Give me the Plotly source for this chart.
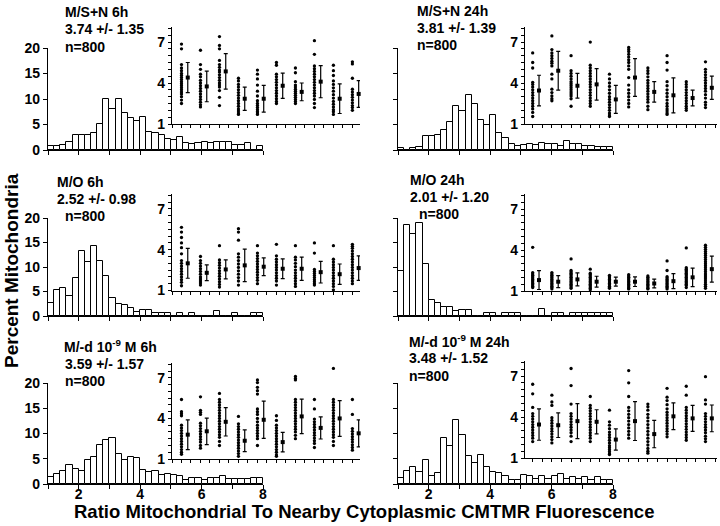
import plotly.graph_objects as go

W, H = 720, 526
FONT = "Liberation Sans, Arial, sans-serif"

# ---------------- data ----------------
panel_titles = ["M/S+N 6h", "M/S+N 24h", "M/O 6h", "M/O 24h",
                "M/-d 10<sup>-9</sup> M 6h", "M/-d 10<sup>-9</sup> M 24h"]
panel_stats = ["3.74 +/- 1.35", "3.81 +/- 1.39", "2.52 +/- 0.98",
               "2.01 +/- 1.20", "3.59 +/- 1.57", "3.48 +/- 1.52"]
panel_n = ["n=800"] * 6

bin_start = 1.0
bin_width = 0.2

# histogram percentages, 35 bins of 0.2 from 1 to 8
hist_a = [0.8, 0.8, 1.0, 1.6, 3.0, 3.0, 3.0, 3.4, 5.1, 10.0, 8.0, 10.0, 7.2, 6.2, 5.6, 6.4, 3.5, 3.3,
          3.0, 2.1, 1.9, 2.5, 1.3, 1.1, 1.3, 1.5, 1.3, 1.5, 1.6, 1.6, 1.0, 1.0, 1.3, 0.0, 0.8]
hist_b = [0.4, 0.0, 0.4, 0.6, 2.7, 2.7, 3.0, 3.9, 5.4, 8.6, 7.7, 10.8, 9.1, 5.9, 4.9, 6.8, 3.4, 2.4,
          1.2, 0.7, 0.9, 1.1, 0.9, 1.3, 1.2, 1.2, 0.7, 1.8, 1.2, 1.1, 0.7, 0.7, 0.6, 0.5, 0.5]
hist_c = [2.7, 5.3, 5.8, 4.0, 7.7, 13.3, 11.1, 14.2, 11.3, 8.1, 3.6, 2.5, 2.3, 1.6, 0.8, 1.2, 1.2, 0.7,
          0.7, 0.7, 0.0, 0.7, 0.0, 0.7, 0.0, 0.0, 0.0, 1.1, 0.0, 0.0, 0.6, 0.0, 0.0, 0.6, 0.6]
hist_d = [9.2, 18.6, 16.8, 19.0, 10.7, 3.2, 2.7, 1.8, 1.8, 1.0, 1.3, 1.3, 0.0, 0.0, 0.6, 0.6, 0.0, 0.6,
          0.6, 0.6, 0.0, 0.0, 0.0, 1.5, 0.0, 0.6, 0.6, 0.0, 0.6, 0.6, 0.6, 0.6, 0.6, 0.6, 0.6]
hist_e = [1.4, 2.0, 2.5, 3.7, 3.0, 2.5, 4.8, 5.3, 7.8, 8.8, 9.2, 6.0, 4.7, 5.3, 5.1, 2.8, 2.3, 2.5,
          1.7, 2.0, 1.8, 1.5, 0.7, 1.2, 1.2, 0.7, 1.2, 1.2, 1.6, 0.9, 1.0, 1.0, 0.9, 1.2, 1.2]
hist_f = [1.1, 2.6, 3.4, 2.4, 4.8, 1.6, 2.2, 9.2, 7.6, 12.7, 9.7, 5.6, 4.1, 5.8, 3.4, 2.4, 2.1, 1.6,
          0.7, 0.7, 1.8, 1.6, 0.9, 1.6, 0.9, 1.6, 2.0, 1.0, 1.3, 0.9, 1.3, 0.7, 1.4, 0.7, 0.8]

# per-cell ratios for 10 cells in each condition (inset dot plots)
dots_a = [
    [6.85, 6.5, 5.35, 5.1, 4.9, 4.7, 4.55, 4.4, 4.25, 4.1, 3.95, 3.8, 3.65, 3.5, 3.35, 3.2, 3.0, 2.75, 2.5],
    [6.4, 5.35, 5.0, 4.65, 4.45, 4.2, 4.0, 3.8, 3.6, 3.4, 3.2, 3.0, 2.8, 2.6, 2.4, 2.25],
    [7.4, 6.75, 6.5, 5.65, 5.35, 5.15, 4.95, 4.8, 4.6, 4.4, 4.2, 4.0, 3.85, 3.7, 3.45, 2.95, 2.35],
    [4.35, 4.15, 3.9, 3.7, 3.5, 3.3, 3.1, 2.9, 2.7, 2.5, 2.3, 2.1, 1.95, 1.8, 1.7],
    [4.95, 4.65, 4.3, 3.85, 3.4, 3.05, 2.7, 2.5, 2.35, 2.2, 2.05, 1.9, 1.8, 1.7],
    [5.5, 5.3, 4.65, 4.45, 4.25, 4.05, 3.85, 3.65, 3.45, 3.25, 3.05, 2.85, 2.65, 2.5],
    [5.1, 4.75, 4.1, 3.85, 3.7, 3.55, 3.4, 3.25, 3.1, 2.95, 2.8, 2.65, 2.5],
    [7.1, 6.1, 5.25, 5.05, 4.85, 4.65, 4.45, 4.25, 4.05, 3.85, 3.65, 3.45, 3.25, 3.05, 2.8, 2.5, 2.2],
    [5.3, 4.9, 4.55, 4.15, 3.9, 3.65, 3.4, 3.15, 2.9, 2.65, 2.45, 2.25, 2.05, 1.9, 1.7],
    [5.55, 5.4, 4.35, 3.55, 3.35, 3.15, 2.95, 2.75, 2.55, 2.35, 2.2, 2.0],
]
dots_b = [
    [6.2, 5.5, 5.1, 4.05, 3.9, 3.7, 3.5, 3.3, 3.1, 2.9, 2.7, 2.5, 2.3, 2.1, 1.85, 1.55],
    [7.45, 6.45, 6.2, 6.0, 5.8, 5.6, 5.45, 5.25, 4.65, 4.3, 3.55, 3.3, 3.05, 2.85, 2.7],
    [6.0, 4.9, 4.7, 4.5, 4.3, 4.1, 3.95, 3.8, 3.65, 3.5, 3.35, 3.2, 3.05, 2.85, 2.3],
    [7.0, 5.3, 5.1, 4.9, 4.7, 4.5, 4.3, 4.1, 3.9, 3.7, 3.5, 3.3, 3.1, 2.9, 2.7, 2.5, 2.3],
    [4.65, 4.3, 4.0, 3.75, 3.5, 3.25, 3.0, 2.8, 2.6, 2.4, 2.2, 2.0, 1.8, 1.65, 1.55],
    [6.6, 6.45, 6.3, 6.1, 5.9, 5.7, 5.5, 5.25, 5.0, 4.4, 3.85, 3.5, 3.25, 3.0, 2.75, 2.5, 2.25],
    [5.1, 4.9, 4.7, 4.45, 4.2, 4.0, 3.8, 3.6, 3.4, 3.2, 3.0, 2.8, 2.6, 2.3, 2.05],
    [6.0, 5.5, 4.95, 4.1, 3.8, 3.5, 3.25, 3.0, 2.75, 2.5, 2.3, 2.1, 1.95, 1.8, 1.7],
    [4.1, 3.9, 3.7, 3.5, 3.3, 3.1, 2.9, 2.7, 2.5, 2.3, 2.15, 2.0],
    [5.55, 5.0, 4.8, 4.6, 4.4, 4.2, 4.0, 3.8, 3.6, 3.4, 3.15, 2.9, 2.6, 2.4, 2.2],
]
dots_c = [
    [5.65, 5.3, 4.9, 4.5, 4.15, 3.7, 3.2, 3.0, 2.8, 2.6, 2.4, 2.2, 2.0, 1.8, 1.6, 1.35],
    [3.5, 3.2, 3.0, 2.8, 2.6, 2.4, 2.2, 2.0, 1.85, 1.7, 1.55, 1.4],
    [4.3, 3.25, 3.05, 2.85, 2.65, 2.45, 2.25, 2.05, 1.85, 1.65, 1.45, 1.25],
    [5.55, 5.3, 4.7, 3.7, 3.45, 3.2, 2.95, 2.7, 2.45, 2.2, 1.95, 1.7, 1.4],
    [4.3, 3.75, 3.55, 3.35, 3.15, 2.95, 2.75, 2.55, 2.35, 2.15, 1.95, 1.75, 1.5],
    [4.4, 3.55, 3.3, 3.1, 2.9, 2.7, 2.5, 2.3, 2.1, 1.9, 1.7, 1.4],
    [4.3, 3.45, 3.25, 3.0, 2.75, 2.5, 2.3, 2.1, 1.9, 1.7, 1.5, 1.3],
    [4.5, 3.75, 2.55, 2.4, 2.25, 2.1, 1.95, 1.8, 1.65, 1.5, 1.4],
    [4.3, 3.3, 3.1, 2.9, 2.7, 2.5, 2.3, 2.1, 1.9, 1.7, 1.5, 1.3, 1.05],
    [4.4, 4.25, 4.1, 3.9, 3.7, 3.5, 3.3, 3.1, 2.9, 2.7, 2.5, 2.3, 2.1, 1.9, 1.7, 1.5],
]
dots_d = [
    [4.2, 2.35, 2.25, 2.15, 2.05, 1.95, 1.85, 1.75, 1.65, 1.55, 1.45, 1.35, 1.25],
    [2.35, 2.25, 2.15, 2.05, 1.95, 1.85, 1.75, 1.65, 1.55, 1.45, 1.35, 1.25, 1.15],
    [3.35, 2.5, 2.4, 2.3, 2.2, 2.1, 2.0, 1.9, 1.8, 1.7, 1.6, 1.5, 1.4, 1.3, 1.2],
    [2.6, 2.3, 2.2, 2.1, 2.0, 1.9, 1.8, 1.7, 1.6, 1.5, 1.4, 1.3, 1.2, 1.1],
    [2.15, 2.05, 1.95, 1.85, 1.75, 1.65, 1.55, 1.45, 1.35, 1.25, 1.2],
    [2.2, 2.1, 2.0, 1.9, 1.8, 1.7, 1.6, 1.5, 1.4, 1.3, 1.2, 1.15],
    [2.1, 2.0, 1.9, 1.8, 1.7, 1.6, 1.5, 1.4, 1.3, 1.2, 1.15],
    [3.2, 2.5, 2.05, 1.95, 1.85, 1.75, 1.65, 1.55, 1.45, 1.35, 1.25, 1.15],
    [4.15, 2.7, 2.6, 2.5, 2.4, 2.3, 2.2, 2.1, 2.0, 1.9, 1.8, 1.7, 1.6, 1.5, 1.4, 1.25],
    [4.35, 4.2, 4.05, 3.9, 3.75, 3.6, 3.45, 3.3, 3.15, 3.0, 2.85, 2.7, 2.55, 2.4, 2.25, 2.1,
     1.95, 1.8, 1.65, 1.5, 1.35, 1.2],
]
dots_e = [
    [5.4, 4.5, 4.35, 4.2, 3.5, 3.3, 3.1, 2.9, 2.7, 2.5, 2.3, 2.1, 1.9, 1.7, 1.5, 1.35],
    [5.6, 4.6, 4.45, 4.3, 3.65, 3.45, 3.25, 3.05, 2.85, 2.65, 2.45, 2.25, 2.0, 1.8],
    [5.85, 5.4, 5.2, 5.0, 4.8, 4.6, 4.4, 4.2, 4.0, 3.8, 3.6, 3.4, 3.2, 3.0, 2.8, 2.6, 2.3, 2.0],
    [4.15, 3.6, 3.4, 3.2, 3.0, 2.8, 2.6, 2.4, 2.2, 2.0, 1.8, 1.6, 1.4, 1.2],
    [6.85, 6.65, 6.3, 6.05, 5.8, 4.7, 4.5, 4.3, 4.0, 3.75, 3.5, 3.3, 3.1, 2.9, 2.7, 2.5, 2.0],
    [4.2, 3.85, 3.5, 3.3, 3.1, 2.9, 2.7, 2.5, 2.3, 2.1, 1.9, 1.7, 1.5, 1.3, 1.2],
    [7.1, 6.95, 6.85, 5.4, 5.2, 5.0, 4.8, 4.6, 4.4, 4.2, 4.0, 3.8, 3.6, 3.4, 3.2, 3.0, 2.75, 2.5],
    [5.4, 4.7, 3.95, 3.75, 3.55, 3.35, 3.15, 2.95, 2.75, 2.55, 2.35, 2.15, 1.85],
    [7.7, 5.4, 5.2, 5.0, 4.8, 4.6, 4.4, 4.2, 4.0, 3.8, 3.6, 3.4, 3.2, 3.0, 2.8, 2.6, 2.3, 2.0],
    [5.4, 4.3, 3.25, 3.05, 2.85, 2.65, 2.45, 2.25, 2.05, 1.85, 1.65],
]
dots_f = [
    [6.4, 5.7, 4.7, 4.25, 4.05, 3.85, 3.65, 3.45, 3.25, 3.05, 2.85, 2.65, 2.45, 2.2],
    [5.6, 5.1, 4.85, 3.95, 3.75, 3.55, 3.35, 3.15, 2.95, 2.75, 2.55, 2.35, 2.1],
    [7.55, 6.3, 4.95, 4.25, 4.05, 3.85, 3.65, 3.45, 3.25, 3.05, 2.85, 2.6, 2.2],
    [5.5, 4.85, 4.65, 4.45, 4.25, 4.05, 3.85, 3.65, 3.45, 3.25, 3.05, 2.85, 2.65, 2.45, 2.2],
    [4.5, 3.65, 3.4, 3.15, 2.9, 2.7, 2.5, 2.3, 2.1, 1.9, 1.75, 1.6, 1.45, 1.3, 1.25],
    [7.4, 6.5, 5.5, 4.7, 4.45, 4.2, 3.95, 3.7, 3.45, 3.2, 2.95, 2.7, 2.45],
    [4.95, 4.75, 4.5, 4.2, 3.95, 3.7, 3.45, 3.2, 2.95, 2.7, 2.45, 2.2, 1.95, 1.7, 1.5, 1.35],
    [6.1, 5.45, 5.2, 4.9, 4.6, 4.35, 4.15, 3.95, 3.75, 3.55, 3.35, 3.15, 2.95, 2.75, 2.55],
    [6.25, 5.6, 4.7, 4.5, 4.3, 4.1, 3.9, 3.7, 3.5, 3.3, 3.1, 2.9, 2.7, 2.5, 2.3],
    [6.95, 5.25, 4.95, 4.25, 4.05, 3.85, 3.65, 3.45, 3.25, 3.05, 2.85, 2.6, 2.4, 2.2],
]

# per-cell mean and SD shown as error bars
mean_a = [4.4, 3.75, 4.85, 2.85, 2.85, 3.8, 3.35, 4.1, 2.85, 3.2]
sd_a = [1.1, 1.12, 1.3, 0.85, 0.98, 0.92, 0.65, 1.18, 1.08, 0.98]
mean_b = [3.45, 4.9, 3.8, 3.9, 2.8, 4.4, 3.35, 3.1, 2.9, 3.65]
sd_b = [1.12, 1.42, 0.9, 1.15, 1.02, 1.38, 0.75, 1.28, 0.58, 0.85]
mean_c = [3.0, 2.3, 2.55, 2.85, 2.75, 2.6, 2.6, 2.35, 2.2, 2.65]
sd_c = [1.1, 0.58, 0.7, 1.2, 0.65, 0.72, 0.85, 0.8, 0.75, 0.9]
mean_d = [1.8, 1.68, 1.85, 1.68, 1.68, 1.68, 1.55, 1.72, 2.0, 2.6]
sd_d = [0.69, 0.44, 0.48, 0.4, 0.33, 0.35, 0.32, 0.55, 0.68, 0.95]
mean_e = [2.8, 3.05, 3.75, 2.35, 3.9, 2.25, 4.15, 3.3, 4.0, 2.9]
sd_e = [1.1, 0.98, 1.05, 0.8, 1.38, 0.72, 1.28, 0.82, 1.32, 1.0]
mean_f = [3.45, 3.4, 3.7, 3.65, 2.35, 3.7, 2.75, 4.05, 3.9, 3.9]
sd_f = [1.15, 0.9, 1.28, 0.88, 0.78, 1.42, 1.0, 0.98, 0.95, 0.98]

cells = list(range(1, 11))

hists = [hist_a, hist_b, hist_c, hist_d, hist_e, hist_f]
dots = [dots_a, dots_b, dots_c, dots_d, dots_e, dots_f]
means = [mean_a, mean_b, mean_c, mean_d, mean_e, mean_f]
sds = [sd_a, sd_b, sd_c, sd_d, sd_e, sd_f]

hist_ticks_y = [0, 5, 10, 15, 20]
hist_ticks_x = [1, 2, 3, 4, 5, 6, 7, 8]
hist_ticklabels_x = ["", "2", "", "4", "", "6", "", "8"]
inset_ticks_y = [1, 1.5, 2, 2.5, 3, 3.5, 4, 4.5, 5, 5.5, 6, 6.5, 7, 7.5, 8]
inset_ticklabels_y = ["1", "", "", "", "", "", "4", "", "", "", "", "", "7", "", ""]


# ---------------- layout geometry (pixels) ----------------
def fx(px):
    return px / W


def fy(py):
    return 1 - py / H


hist_x_px = [(48, 263), (398, 613)]
hist_y_px = [(48, 150), (218, 316), (383, 484)]
inset_x_px = [(172, 360), (525, 717)]
inset_x_rng = [[0.5, 10.4], [0.6, 10.6]]
inset_y_px = [[(27, 124), (27, 124)], [(194, 290.5), (194, 291)], [(363, 459), (361, 458)]]
text_pos = [
    [(63, 12), (63, 29), (63, 47)],
    [(415, 11), (415, 28), (415, 45)],
    [(55, 182), (55, 199), (63, 216)],
    [(408, 180), (408, 197), (417, 214)],
    [(62, 346), (63, 364), (63, 381)],
    [(407, 341), (407, 358), (407, 376)],
]

bold = dict(family=FONT, size=14, color="black", weight="bold")

fig = go.Figure()
layout = dict(
    width=W, height=H, margin=dict(l=0, r=0, t=0, b=0, pad=0, autoexpand=False),
    paper_bgcolor="white", plot_bgcolor="rgba(0,0,0,0)",
    showlegend=False, bargap=0,
)

axis_common = dict(showline=True, linecolor="black", linewidth=1.3, ticks="outside",
                   ticklen=4, tickwidth=1, tickcolor="black", showgrid=False,
                   zeroline=False, fixedrange=True, tickfont=bold, automargin=False)

annotations = []
centers = [bin_start + bin_width * (k + 0.5) for k in range(len(hist_a))]

for p in range(6):
    r, c = divmod(p, 2)
    hi = 2 * p + 1
    ii = 2 * p + 2
    hx = "x" if hi == 1 else f"x{hi}"
    hy = "y" if hi == 1 else f"y{hi}"
    ix, iy = f"x{ii}", f"y{ii}"
    hxk = "xaxis" if hi == 1 else f"xaxis{hi}"
    hyk = "yaxis" if hi == 1 else f"yaxis{hi}"

    # histogram
    fig.add_trace(go.Bar(x=centers, y=hists[p], width=bin_width,
                         marker=dict(color="white", line=dict(color="black", width=1)),
                         xaxis=hx, yaxis=hy, hoverinfo="skip"))
    x0, x1 = hist_x_px[c]
    y0, y1 = hist_y_px[r]
    layout[hxk] = dict(axis_common, domain=[fx(x0), fx(x1)], range=[1, 8], anchor=hy,
                       tickvals=hist_ticks_x, ticklabelstandoff=-7,
                       ticktext=hist_ticklabels_x if r == 2 else [" "] * 8)
    layout[hyk] = dict(axis_common, domain=[fy(y1), fy(y0)], range=[0, 20], anchor=hx,
                       tickvals=hist_ticks_y,
                       ticktext=[str(v) for v in hist_ticks_y] if c == 0 else [" "] * 5)

    # inset dot plot
    xs, ys = [], []
    for i, vals in zip(cells, dots[p]):
        xs += [i] * len(vals)
        ys += vals
    fig.add_trace(go.Scatter(x=xs, y=ys, mode="markers", xaxis=ix, yaxis=iy,
                             marker=dict(size=3.3, color="black", line=dict(width=0)),
                             cliponaxis=False, hoverinfo="skip"))
    fig.add_trace(go.Scatter(x=[i + 0.33 for i in cells], y=means[p], mode="markers",
                             xaxis=ix, yaxis=iy, cliponaxis=False,
                             marker=dict(size=4, symbol="square", color="black"),
                             error_y=dict(type="data", array=sds[p], color="black",
                                          thickness=1.2, width=2),
                             hoverinfo="skip"))
    ax0, ax1 = inset_x_px[c]
    ay0, ay1 = inset_y_px[r][c]
    layout[f"xaxis{ii}"] = dict(axis_common, domain=[fx(ax0), fx(ax1)], range=inset_x_rng[c],
                                anchor=iy, tick0=1, dtick=0.5, showticklabels=False, ticklen=3)
    layout[f"yaxis{ii}"] = dict(axis_common, domain=[fy(ay1), fy(ay0)], range=[1, 8.1],
                                anchor=ix, tickvals=inset_ticks_y, ticktext=inset_ticklabels_y,
                                ticklen=3)

    for txt, (tx, ty) in zip([panel_titles[p], panel_stats[p], panel_n[p]], text_pos[p]):
        annotations.append(dict(text=txt, x=fx(tx), y=fy(ty), xref="paper", yref="paper",
                                xanchor="left", yanchor="middle", showarrow=False, font=bold))

annotations.append(dict(text="Percent Mitochondria", x=fx(11), y=fy(271), xref="paper",
                        yref="paper", textangle=-90, showarrow=False,
                        xanchor="center", yanchor="middle",
                        font=dict(family=FONT, size=19, color="black", weight="bold")))
annotations.append(dict(text="Ratio Mitochondrial To Nearby Cytoplasmic CMTMR Fluorescence",
                        x=fx(364), y=fy(511), xref="paper", yref="paper", showarrow=False,
                        xanchor="center", yanchor="middle",
                        font=dict(family=FONT, size=18.5, color="black", weight="bold")))
layout["annotations"] = annotations

fig.update_layout(**layout)
fig.write_html("out.html", config={"displayModeBar": False},
               post_script="document.body.style.margin='0';document.body.style.overflow='hidden';")
